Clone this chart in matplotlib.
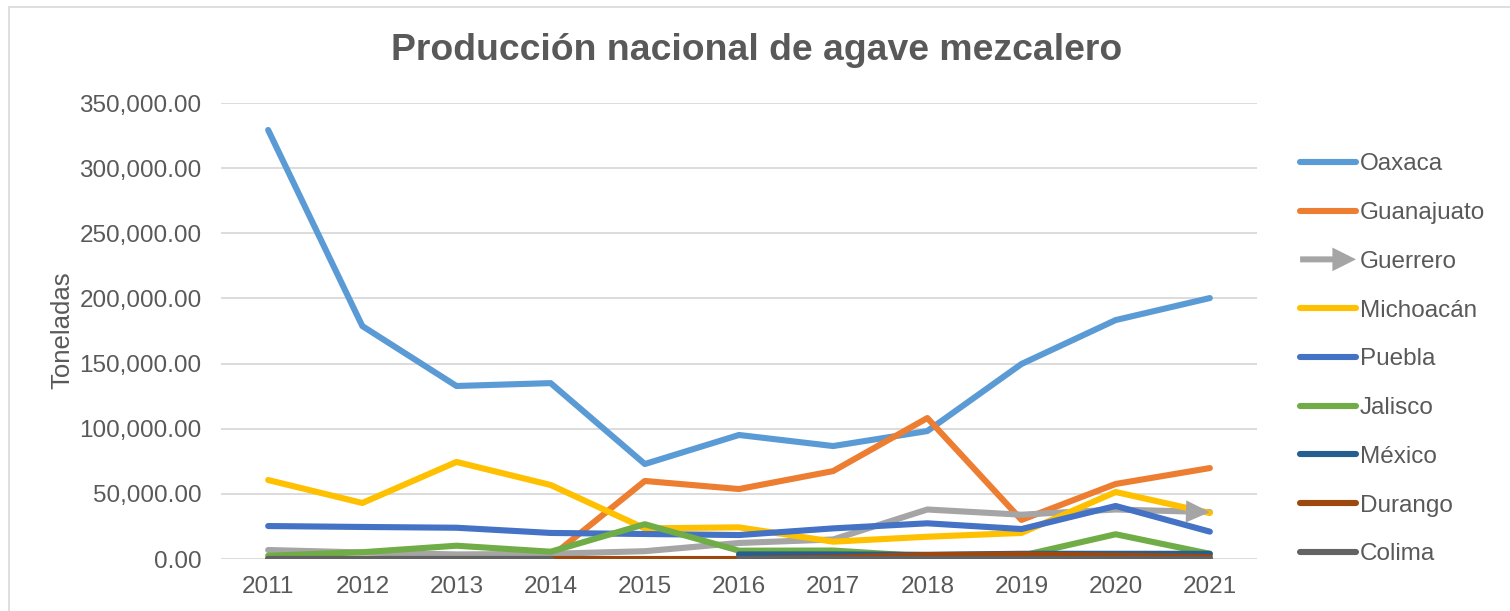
import numpy as np
import matplotlib
matplotlib.use("Agg")
from matplotlib import pyplot as plt
from matplotlib.legend_handler import HandlerBase
from matplotlib.patches import FancyArrow, Rectangle

plt.rcParams['font.family'] = ['Liberation Sans', 'DejaVu Sans']

nan = np.nan
years = [2011, 2012, 2013, 2014, 2015, 2016, 2017, 2018, 2019, 2020, 2021]
oaxaca = [329300, 178800, 132800, 135000, 72900, 95200, 86700, 98200, 149700, 183400, 200300]
guanajuato = [nan, nan, nan, 1500, 59900, 53700, 67500, 108200, 30000, 57600, 69800]
guerrero = [6900, 5000, 3500, 4000, 6000, 12300, 15000, 38000, 34000, 38000, 36000]
michoacan = [60600, 43000, 74500, 56800, 23500, 24300, 13300, 17100, 20000, 51400, 35300]
puebla = [25300, 24600, 24000, 20000, 19200, 18400, 23500, 27400, 23000, 40700, 21000]
jalisco = [2500, 5200, 10200, 5600, 26700, 6400, 6500, 2000, 2500, 19000, 4000]
mexico = [nan, nan, nan, nan, nan, 3500, 3500, 3200, 4000, 4000, 4000]
durango = [0, 0, 0, 0, 0, 0, 1000, 3000, 3500, 2500, 1500]
colima = [0, 0, 0, 0, nan, 0, 0, 0, 0, 0, 0]

names = ['Oaxaca', 'Guanajuato', 'Guerrero', 'Michoacán', 'Puebla',
         'Jalisco', 'México', 'Durango', 'Colima']
series = [oaxaca, guanajuato, guerrero, michoacan, puebla,
          jalisco, mexico, durango, colima]
colors = ['#5B9BD5', '#ED7D31', '#A5A5A5', '#FFC000', '#4472C4',
          '#70AD47', '#255E91', '#9E480E', '#636363']
txt = '#595959'


class ArrowHandler(HandlerBase):
    def create_artists(self, legend, orig, xd, yd, width, height, fontsize, trans):
        a = FancyArrow(-xd, height / 2 - yd, width, 0, width=4.3, head_width=17,
                       head_length=17, length_includes_head=True,
                       color=orig.get_color(), lw=0, transform=trans)
        return [a]


fig = plt.figure(figsize=(15.1, 6.11), dpi=100)
fig.patches.append(Rectangle((0.006, -0.05), 1.2, 1.0385, transform=fig.transFigure,
                             fill=False, ec='#D9D9D9', lw=1.2))
ax = fig.add_axes([0.1464, 0.0851, 0.686, 0.7463])

x = np.arange(len(years))
lines = []
for name, vals, c in zip(names, series, colors):
    ln, = ax.plot(x, vals, color=c, lw=4.4, label=name,
                  solid_capstyle='round', solid_joinstyle='round')
    lines.append(ln)

# arrow head at the end of Guerrero
ax.annotate('', xy=(x[-1], guerrero[-1]), xytext=(x[-2], guerrero[-2]),
            arrowprops=dict(arrowstyle='-|>,head_length=0.86,head_width=0.4',
                            mutation_scale=20, color=colors[2], lw=0,
                            shrinkA=0, shrinkB=0), zorder=3)

ax.set_xlim(-0.5, len(years) - 0.5)
ax.set_ylim(0, 350000)
ax.set_yticks(np.arange(0, 350001, 50000))
ax.set_yticklabels(['{:,.2f}'.format(v) for v in np.arange(0, 350001, 50000)])
ax.set_xticks(x)
ax.set_xticklabels([str(y) for y in years])
ax.tick_params(axis='both', length=0, labelsize=17.5, labelcolor=txt)
ax.tick_params(axis='y', pad=14)
ax.tick_params(axis='x', pad=12)
ax.grid(axis='y', color='#D9D9D9', lw=1.3)
ax.set_axisbelow(True)
for s in ax.spines.values():
    s.set_visible(False)

fig.text(0.5013, 0.917, 'Producción nacional de agave mezcalero', ha='center', va='center',
         fontsize=26.9, fontweight='bold', color=txt)
fig.text(0.041, 0.46, 'Toneladas', rotation=90, ha='center', va='center',
         fontsize=18.5, color=txt)

fig.legend(handles=lines, loc='upper left', bbox_to_anchor=(0.861, 0.749),
           frameon=False, fontsize=17.5, labelcolor=txt, handlelength=2.3,
           handletextpad=0.17, labelspacing=1.1, borderaxespad=0, borderpad=0,
           handler_map={lines[2]: ArrowHandler()})

fig.savefig('out.png', dpi=100)
